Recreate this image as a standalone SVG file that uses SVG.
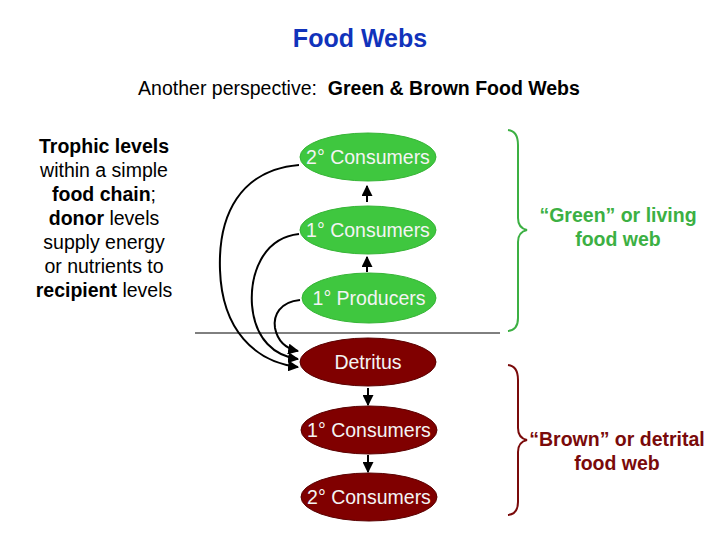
<svg xmlns="http://www.w3.org/2000/svg" width="720" height="540" viewBox="0 0 720 540">
<style>
text{font-family:"Liberation Sans",Arial,sans-serif;}
.t{font-size:19.5px;fill:#000;text-anchor:middle;}
.b{font-weight:bold;}
.g ellipse{fill:#3fc73f;stroke:#35b535;stroke-width:1;}
.r ellipse{fill:#800000;stroke:#5a0000;stroke-width:1;}
.lbl{font-size:19.5px;fill:#f4f4f4;text-anchor:middle;}
.con{fill:none;stroke:#000;stroke-width:2;}
</style>
<defs>
<marker id="ah" viewBox="0 0 10 10" refX="9" refY="5" markerWidth="5.5" markerHeight="5.5" orient="auto" markerUnits="strokeWidth">
<path d="M0,0 L10,5 L0,10 z" fill="#000"/>
</marker>
</defs>
<rect width="720" height="540" fill="#fff"/>
<text x="360" y="47" text-anchor="middle" font-size="25" font-weight="bold" fill="#1133bb">Food Webs</text>
<text x="359" y="95" text-anchor="middle" font-size="19.5" fill="#000">Another perspective: &#160;<tspan font-weight="bold">Green &amp; Brown Food Webs</tspan></text>
<g id="desc">
<text class="t b" x="104" y="153">Trophic levels</text>
<text class="t" x="104" y="177">within a simple</text>
<text class="t" x="104" y="201"><tspan class="b">food chain</tspan>;</text>
<text class="t" x="104" y="225"><tspan class="b">donor</tspan> levels</text>
<text class="t" x="104" y="249">supply energy</text>
<text class="t" x="104" y="273">or nutrients to</text>
<text class="t" x="104" y="297"><tspan class="b">recipient</tspan> levels</text>
</g>
<line x1="195" y1="333" x2="500" y2="333" stroke="#000" stroke-width="1"/>
<g id="g2" class="g"><ellipse cx="368" cy="157" rx="68" ry="24"/><text class="lbl" x="368" y="164">2° Consumers</text></g>
<g id="g1" class="g"><ellipse cx="368" cy="230" rx="68" ry="24"/><text class="lbl" x="368" y="237">1° Consumers</text></g>
<g id="gp" class="g"><ellipse cx="369" cy="298" rx="67" ry="25"/><text class="lbl" x="369" y="305">1° Producers</text></g>
<g id="det" class="r"><ellipse cx="368" cy="362" rx="68" ry="24"/><text class="lbl" x="368" y="369">Detritus</text></g>
<g id="b1" class="r"><ellipse cx="369" cy="430" rx="68" ry="24"/><text class="lbl" x="369" y="437">1° Consumers</text></g>
<g id="b2" class="r"><ellipse cx="369" cy="497" rx="68" ry="24"/><text class="lbl" x="369" y="504">2° Consumers</text></g>
<g id="connectors">
<path class="con" d="M367,202 L367,186" marker-end="url(#ah)"/>
<path class="con" d="M367,272 L367,257" marker-end="url(#ah)"/>
<path class="con" d="M368,388 L368,405" marker-end="url(#ah)"/>
<path class="con" d="M368,455 L368,472" marker-end="url(#ah)"/>
<path class="con" d="M299,165 C240,170 218,215 220,270 C222,330 255,362 298,367" marker-end="url(#ah)"/>
<path class="con" d="M299,234 C262,238 250,275 252,305 C255,340 275,356 298,359" marker-end="url(#ah)"/>
<path class="con" d="M300,300 C280,302 273,315 275,328 C278,343 288,349 298,351" marker-end="url(#ah)"/>
</g>
<g id="green-brace">
<path d="M508,130 Q518,131 518,145 L518,218 Q518,228 527,230 Q518,232 518,242 L518,318 Q518,330 508,331" fill="none" stroke="#3cb043" stroke-width="2"/>
<text x="618" y="222" text-anchor="middle" font-size="19.5" font-weight="bold" fill="#3cb043">“Green” or living</text>
<text x="618" y="246" text-anchor="middle" font-size="19.5" font-weight="bold" fill="#3cb043">food web</text>
</g>
<g id="brown-brace">
<path d="M508,365 Q518,366 518,380 L518,428 Q518,438 527,440 Q518,442 518,452 L518,502 Q518,514 508,515" fill="none" stroke="#7a0a0a" stroke-width="2"/>
<text x="617" y="446" text-anchor="middle" font-size="19.5" font-weight="bold" fill="#7a0a0a">“Brown” or detrital</text>
<text x="617" y="470" text-anchor="middle" font-size="19.5" font-weight="bold" fill="#7a0a0a">food web</text>
</g>
</svg>
